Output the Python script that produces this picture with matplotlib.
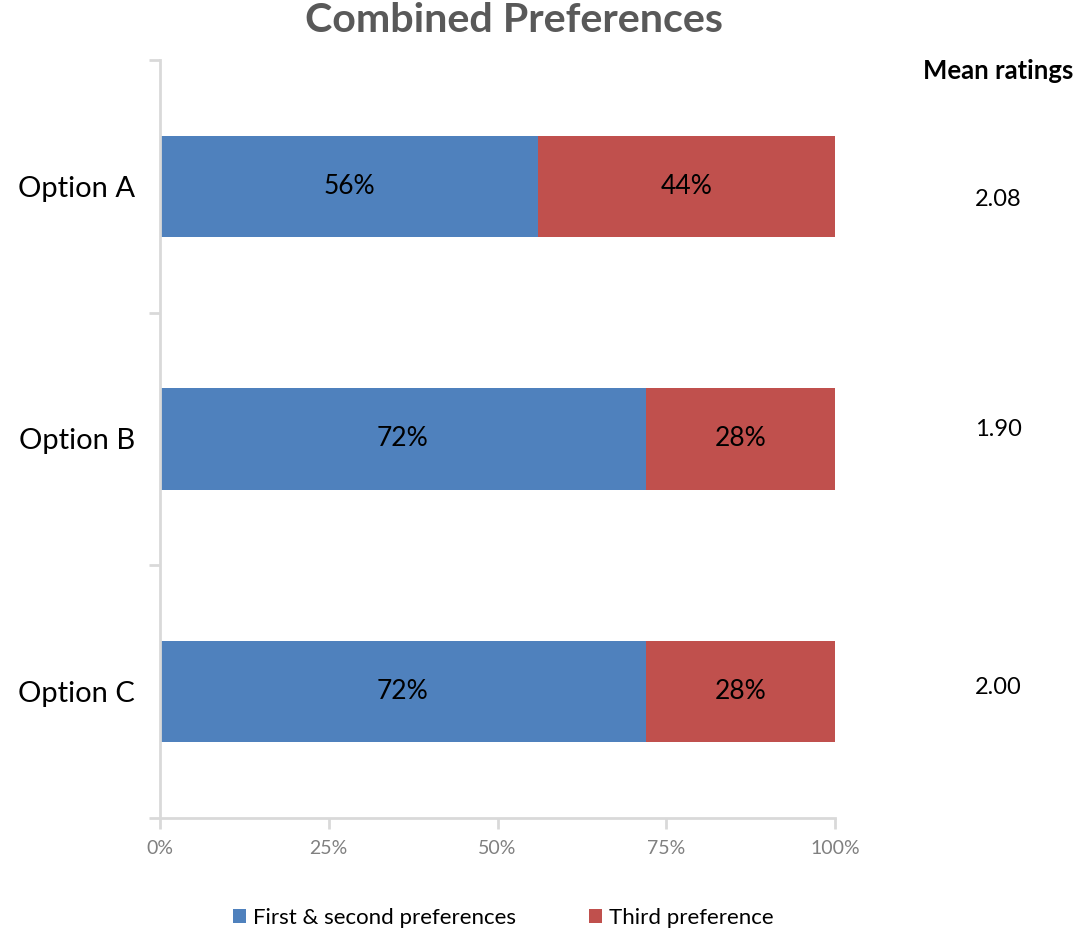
import matplotlib.pyplot as plt

# Chart data
options = ['Option A', 'Option B', 'Option C']
first_second = [56, 72, 72]
third = [44, 28, 28]
mean_ratings = ['2.08', '1.90', '2.00']
mean_y = [200, 430, 688]  # pixel rows of the mean rating labels
x_ticks = [0, 25, 50, 75, 100]

blue = '#4F81BD'
red = '#C0504D'
grid_grey = '#D9D9D9'

plt.rcParams['font.family'] = ['Lato', 'DejaVu Sans']

W, H = 1089, 933
fig = plt.figure(figsize=(W / 100, H / 100), dpi=100)
ax = fig.add_axes([160 / W, 1 - 818 / H, (835 - 160) / W, (818 - 60) / H])

pos = list(range(len(options)))
ax.barh(pos, first_second, height=0.4, color=blue, label='First & second preferences')
ax.barh(pos, third, left=first_second, height=0.4, color=red, label='Third preference')

# Value labels inside the bars
for i in pos:
    ax.text(first_second[i] / 2, i, f'{first_second[i]}%', ha='center', va='center',
            fontsize=19, color='black')
    ax.text(first_second[i] + third[i] / 2, i, f'{third[i]}%', ha='center', va='center',
            fontsize=19, color='black')

ax.set_xlim(0, 100)
ax.set_ylim(2.5, -0.5)

ax.set_xticks(x_ticks)
ax.set_xticklabels([f'{t}%' for t in x_ticks], fontsize=14, color='#808080')
ax.set_yticks(pos)
ax.set_yticklabels(options, fontsize=21)
ax.set_yticks([-0.5, 0.5, 1.5, 2.5], minor=True)

ax.tick_params(axis='y', which='major', length=0, pad=18)
ax.tick_params(axis='y', which='minor', length=8, width=2, color=grid_grey)
ax.tick_params(axis='x', length=8, width=2, color=grid_grey, pad=8)

for side in ['top', 'right']:
    ax.spines[side].set_visible(False)
for side in ['left', 'bottom']:
    ax.spines[side].set_color(grid_grey)
    ax.spines[side].set_linewidth(2)

# Title and mean ratings column
fig.text(514 / W, 1 - 21 / H, 'Combined Preferences', ha='center', va='center',
         fontsize=29.7, fontweight='bold', color='#595959')
fig.text(998 / W, 1 - 71 / H, 'Mean ratings', ha='center', va='center',
         fontsize=18.5, fontweight='bold', color='black')
for val, yp in zip(mean_ratings, mean_y):
    fig.text(998 / W, 1 - yp / H, val, ha='center', va='center', fontsize=17, color='black')

fig.legend(loc='center', bbox_to_anchor=(503 / W, 1 - 918 / H), ncol=2, frameon=False,
           fontsize=16, handlelength=0.6, handleheight=0.6, handletextpad=0.3,
           columnspacing=3.3)

fig.savefig('out.png', dpi=100)
